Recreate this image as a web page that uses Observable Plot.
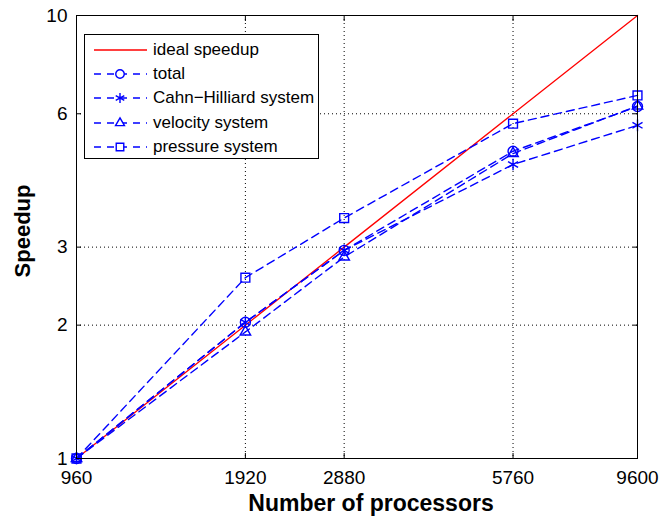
<!DOCTYPE html>
<html>
<head>
<meta charset="utf-8">
<script src="https://cdn.jsdelivr.net/npm/d3@7"></script>
<script src="https://cdn.jsdelivr.net/npm/@observablehq/plot@0.6"></script>
<style>
  html, body { margin: 0; padding: 0; background: #fff; }
  #wrap { position: relative; width: 661px; height: 523px; font-family: "Liberation Sans", Arial, sans-serif; }
  #legend { position: absolute; left: 84px; top: 34px; width: 233px; height: 123px; border: 1px solid #000; background: #fff; }
  .entry { position: absolute; left: 0; height: 24px; display: flex; align-items: center; font-size: 17px; color: #000; }
  .entry svg { display: block; margin-left: 8px; margin-right: 6px; }
</style>
</head>
<body>
<div id="wrap"><div id="legend"></div></div>
<script>
const processors = [960, 1920, 2880, 5760, 9600];
const ideal = [1, 2, 3, 6, 10];
const total = [1, 2.03, 2.95, 4.94, 6.23];
const cahnHilliard = [1, 2.03, 2.95, 4.61, 5.65];
const velocity = [1, 1.93, 2.85, 4.88, 6.25];
const pressure = [1, 2.56, 3.49, 5.70, 6.60];
const xTicks = [960, 1920, 2880, 5760, 9600];
const yTicks = [1, 2, 3, 6, 10];
const seriesNames = ["ideal speedup", "total", "Cahn\u2212Hilliard system", "velocity system", "pressure system"];
const seriesSymbols = [null, "circle", "asterisk", "triangle", "square"];
const seriesValues = [ideal, total, cahnHilliard, velocity, pressure];

const rows = [];
seriesNames.forEach((name, i) => {
  processors.forEach((p, j) => rows.push({series: name, symbol: seriesSymbols[i], x: p, y: seriesValues[i][j]}));
});
const bySeries = name => rows.filter(r => r.series === name);

const blue = "#0000ff", red = "#ff0000";
const dash = "8,5";
const markerR = {circle: 5, asterisk: 5.5, triangle: 3.9, square: 5};

const marks = [
  Plot.gridX(xTicks.slice(1, -1), {stroke: "#000", strokeOpacity: 1, strokeDasharray: "1,3"}),
  Plot.gridY(yTicks.slice(1, -1), {stroke: "#000", strokeOpacity: 1, strokeDasharray: "1,3"}),
  // inward ticks
  Plot.axisX(xTicks, {anchor: "bottom", tickSize: 5, dy: -5, text: null, label: null}),
  Plot.axisX(xTicks, {anchor: "top", tickSize: 5, dy: 5, text: null, label: null}),
  Plot.axisY(yTicks, {anchor: "left", tickSize: 5, dx: 5, text: null, label: null}),
  Plot.axisY(yTicks, {anchor: "right", tickSize: 5, dx: -5, text: null, label: null}),
  // tick labels
  Plot.axisX(xTicks, {anchor: "bottom", tickSize: 0, tickPadding: 12, tickFormat: d => String(d), fontSize: 19, label: null}),
  Plot.axisY(yTicks, {anchor: "left", tickSize: 0, tickPadding: 9, tickFormat: d => String(d), fontSize: 19, label: null}),
  Plot.line(bySeries(seriesNames[0]), {x: "x", y: "y", stroke: red, strokeWidth: 1.3}),
];
for (let i = 1; i < seriesNames.length; i++) {
  marks.push(Plot.line(bySeries(seriesNames[i]), {x: "x", y: "y", stroke: blue, strokeWidth: 1.4, strokeDasharray: dash}));
}
for (let i = 1; i < seriesNames.length; i++) {
  marks.push(Plot.dot(bySeries(seriesNames[i]), {x: "x", y: "y", symbol: "symbol", r: markerR[seriesSymbols[i]], stroke: blue, fill: "none", strokeWidth: 1.4}));
}
marks.push(Plot.frame({stroke: "#000", strokeWidth: 1}));
marks.push(Plot.text(["Number of processors"], {frameAnchor: "bottom", dx: 14, dy: 52, fontSize: 23, fontWeight: "bold", fill: "#000"}));
marks.push(Plot.text(["Speedup"], {frameAnchor: "left", textAnchor: "middle", lineAnchor: "middle", rotate: -90, dx: -54, dy: -6, fontSize: 22, fontWeight: "bold", fill: "#000"}));

const chart = Plot.plot({
  width: 661,
  height: 523,
  marginLeft: 76,
  marginRight: 24,
  marginTop: 15,
  marginBottom: 65,
  style: {fontFamily: "'Liberation Sans', Arial, sans-serif", background: "#fff", color: "#000", overflow: "visible"},
  x: {type: "log", domain: [960, 9600]},
  y: {type: "log", domain: [1, 10]},
  symbol: {type: "identity"},
  marks
});
const wrap = document.getElementById("wrap");
wrap.insertBefore(chart, wrap.firstChild);
chart.style.position = "absolute";
chart.style.left = "0";
chart.style.top = "0";

// legend
const legend = document.getElementById("legend");
const symMap = {circle: d3.symbolCircle, asterisk: d3.symbolAsterisk, triangle: d3.symbolTriangle, square: d3.symbolSquare};
seriesNames.forEach((name, i) => {
  const div = document.createElement("div");
  div.className = "entry";
  div.style.top = (3 + i * 24.2) + "px";
  const svg = d3.create("svg").attr("width", 54).attr("height", 24);
  if (i === 0) {
    svg.append("line").attr("x1", 1).attr("x2", 54).attr("y1", 12).attr("y2", 12).attr("stroke", red).attr("stroke-width", 1.3);
  } else {
    svg.append("line").attr("x1", 1).attr("x2", 54).attr("y1", 12).attr("y2", 12)
      .attr("stroke", blue).attr("stroke-width", 1.4).attr("stroke-dasharray", "7,6");
    const r = markerR[seriesSymbols[i]] * 0.85;
    svg.append("path").attr("transform", "translate(27,12)")
      .attr("d", d3.symbol(symMap[seriesSymbols[i]], Math.PI * r * r)())
      .attr("fill", "#fff").attr("stroke", blue).attr("stroke-width", 1.4);
  }
  div.appendChild(svg.node());
  const span = document.createElement("span");
  span.textContent = name;
  div.appendChild(span);
  legend.appendChild(div);
});
</script>
</body>
</html>
